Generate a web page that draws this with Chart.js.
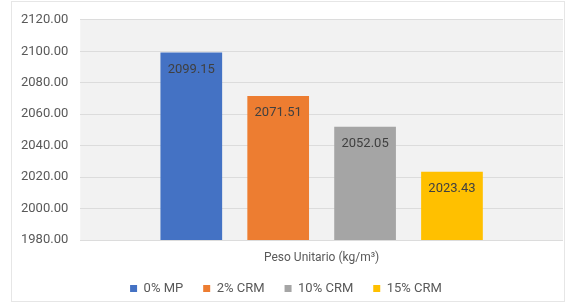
<!DOCTYPE html>
<html>
<head>
<meta charset="utf-8">
<script src="https://cdn.jsdelivr.net/npm/chart.js@4/dist/chart.umd.min.js"></script>
<style>
    html, body { margin: 0; padding: 0; background: #fff; }
    #wrap { width: 565px; height: 302px; position: relative; }
</style>
</head>
<body>
<div id="wrap"><canvas id="chart"></canvas></div>
<script>
// Data
const categories = ["Peso Unitario (kg/m³)"];
const seriesNames = ["0% MP", "2% CRM", "10% CRM", "15% CRM"];
const seriesValues = [2099.15, 2071.51, 2052.05, 2023.43];
const seriesColors = ["#4472C4", "#ED7D31", "#A5A5A5", "#FFC000"];
const yTicks = { min: 1980, max: 2120, step: 20 };

const fontFamily = "Roboto, 'Liberation Sans', sans-serif";

// Gray plot area, thin outer border and value labels inside the bar tops
const excelLook = {
    id: "excelLook",
    beforeDraw(chart) {
        const { ctx, chartArea: a } = chart;
        ctx.save();
        ctx.strokeStyle = "#e6e6e6";
        ctx.lineWidth = 1;
        ctx.strokeRect(11.5, 1.5, chart.width - 12, chart.height - 2);
        ctx.fillStyle = "#f2f2f2";
        ctx.fillRect(a.left, a.top, a.right - a.left, a.bottom - a.top);
        ctx.restore();
    },
    afterDatasetsDraw(chart) {
        const { ctx } = chart;
        ctx.save();
        ctx.font = "13px " + fontFamily;
        ctx.fillStyle = "#404040";
        ctx.textAlign = "center";
        ctx.textBaseline = "middle";
        chart.data.datasets.forEach((ds, i) => {
            const meta = chart.getDatasetMeta(i);
            meta.data.forEach((bar, j) => {
                ctx.fillText(ds.data[j].toFixed(2), bar.x, bar.y + 17);
            });
        });
        ctx.restore();
    }
};

const config = {
    type: "bar",
    data: {
        labels: categories,
        datasets: seriesNames.map((name, i) => ({
            label: name,
            data: [seriesValues[i]],
            backgroundColor: seriesColors[i],
            borderWidth: 0,
            categoryPercentage: 0.72,
            barPercentage: 0.71,
        })),
    },
    options: {
        responsive: false,
        animation: false,
        layout: { padding: { left: 9, right: 2, top: 4, bottom: -3 } },
        plugins: {
            legend: {
                position: "bottom",
                labels: {
                    boxWidth: 7,
                    boxHeight: 7,
                    padding: 20,
                    color: "#595959",
                    font: { family: fontFamily, size: 13 },
                },
            },
            tooltip: { enabled: false },
        },
        scales: {
            x: {
                grid: { display: false },
                border: { display: false },
                ticks: { display: false },
                // the single category name, shown as the axis title so it isn't clipped
                title: {
                    display: true,
                    text: categories[0],
                    color: "#595959",
                    font: { family: fontFamily, size: 12 },
                    padding: { top: 0, bottom: -3 },
                },
                // let the category name sit partly in the legend's top padding
                afterFit: (scale) => { scale.height = 22; },
            },
            y: {
                min: yTicks.min,
                max: yTicks.max,
                grid: { color: "#dcdcdc", drawTicks: false },
                border: { display: false },
                ticks: {
                    stepSize: yTicks.step,
                    color: "#595959",
                    padding: 12,
                    font: { family: fontFamily, size: 13 },
                    callback: (v) => v.toFixed(2),
                },
            },
        },
    },
    plugins: [excelLook],
};

const canvas = document.getElementById("chart");
canvas.width = 565;
canvas.height = 302;
new Chart(canvas, config);
</script>
</body>
</html>
